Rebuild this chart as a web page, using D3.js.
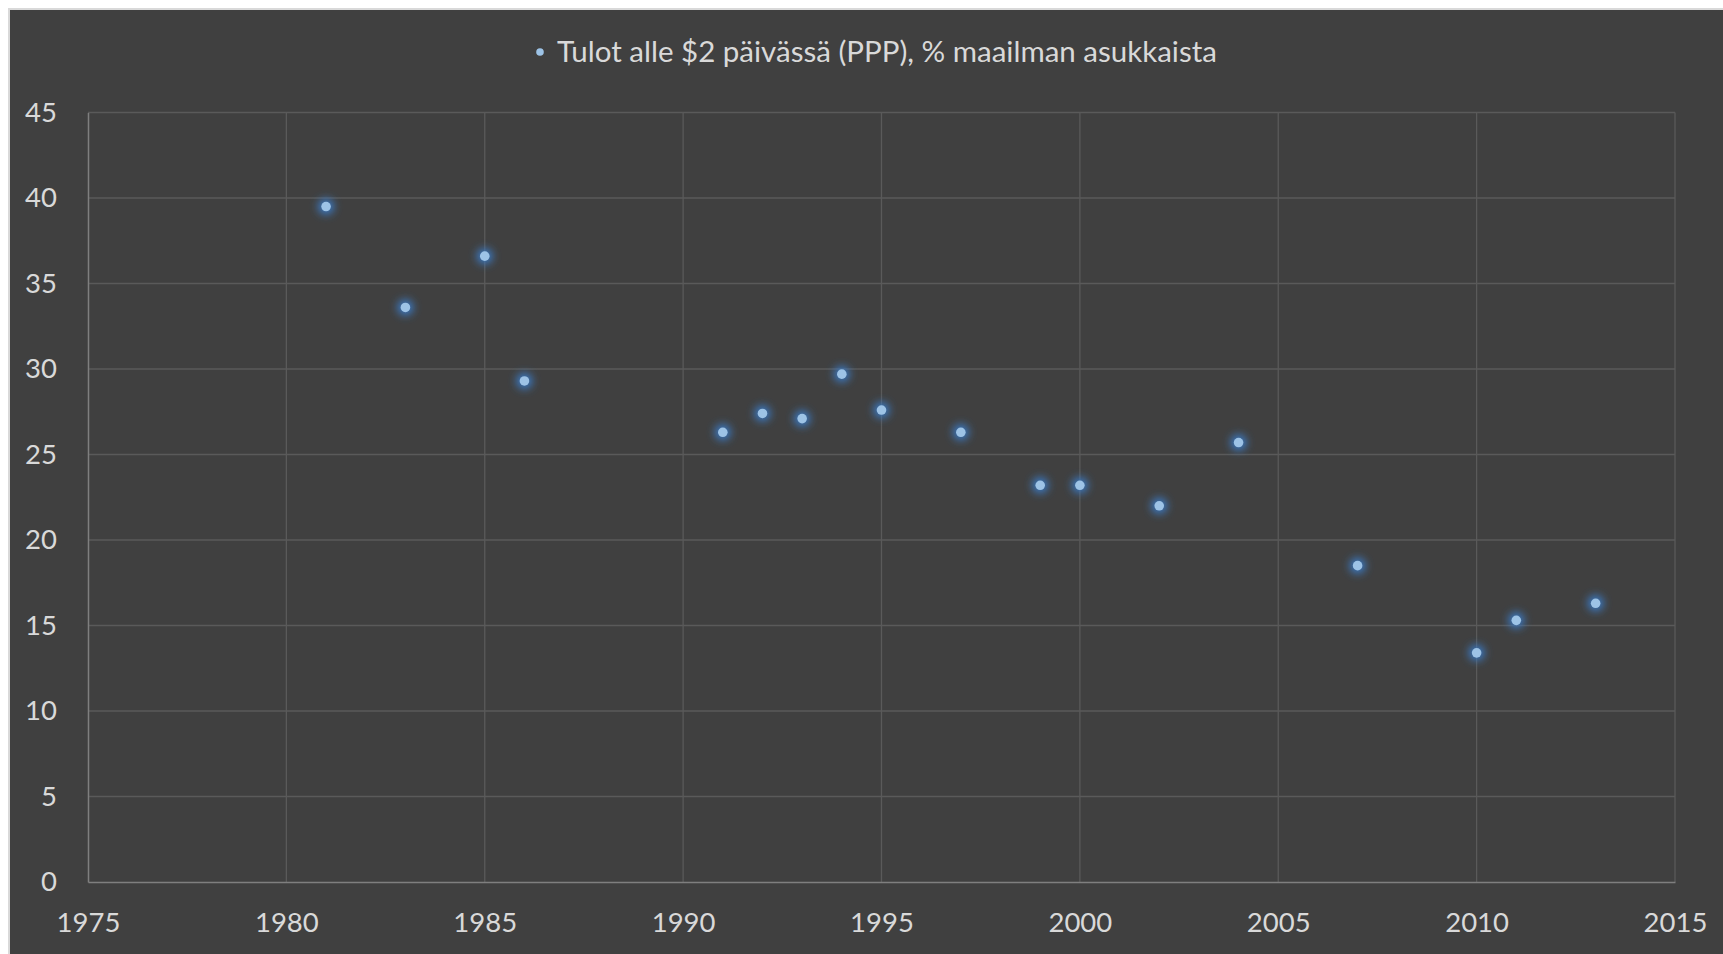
<!DOCTYPE html>
<html>
<head>
<meta charset="utf-8">
<script src="https://cdn.jsdelivr.net/npm/d3@7"></script>
<style>
  body { margin: 0; background: #ffffff; }
  text { font-family: Lato, "Open Sans", sans-serif; }
</style>
</head>
<body>
<div id="chart-container"></div>
<script>
// Data
const years = [1981, 1983, 1985, 1986, 1991, 1992, 1993, 1994, 1995, 1997, 1999, 2000, 2002, 2004, 2007, 2010, 2011, 2013];
const values = [39.5, 33.6, 36.6, 29.3, 26.3, 27.4, 27.1, 29.7, 27.6, 26.3, 23.2, 23.2, 22.0, 25.7, 18.5, 13.4, 15.3, 16.3];
const xTicks = [1975, 1980, 1985, 1990, 1995, 2000, 2005, 2010, 2015];
const yTicks = [0, 5, 10, 15, 20, 25, 30, 35, 40, 45];
const seriesName = 'Tulot alle $2 päivässä (PPP), % maailman asukkaista';

const W = 1723, H = 954;
const plot = { left: 88, right: 1675, top: 112.5, bottom: 882 };

const svg = d3.select('#chart-container')
    .append('svg')
    .attr('width', W)
    .attr('height', H);

// glow for the markers
const defs = svg.append('defs');
const glow = defs.append('filter')
    .attr('id', 'glow')
    .attr('x', '-200%').attr('y', '-200%')
    .attr('width', '500%').attr('height', '500%');
glow.append('feGaussianBlur').attr('stdDeviation', 4);

// chart background
svg.append('rect')
    .attr('x', 9).attr('y', 9)
    .attr('width', W).attr('height', H)
    .attr('fill', '#404040')
    .attr('stroke', '#d9d9d9')
    .attr('stroke-width', 2);

// scales
const xScale = d3.scaleLinear().domain([1975, 2015]).range([plot.left, plot.right]);
const yScale = d3.scaleLinear().domain([0, 45]).range([plot.bottom, plot.top]);

// gridlines
svg.append('g')
    .selectAll('line')
    .data(yTicks.filter(d => d > 0))
    .enter()
    .append('line')
    .attr('x1', plot.left).attr('x2', plot.right)
    .attr('y1', d => yScale(d)).attr('y2', d => yScale(d))
    .attr('stroke', '#5a5a5a')
    .attr('stroke-width', 1.3);

svg.append('g')
    .selectAll('line')
    .data(xTicks.filter(d => d > 1975))
    .enter()
    .append('line')
    .attr('x1', d => xScale(d)).attr('x2', d => xScale(d))
    .attr('y1', plot.top).attr('y2', plot.bottom)
    .attr('stroke', '#5a5a5a')
    .attr('stroke-width', 1.3);

// axes
const xAxis = svg.append('g')
    .attr('transform', `translate(0,${plot.bottom})`)
    .call(d3.axisBottom(xScale).tickValues(xTicks).tickFormat(d3.format('d')).tickSize(0).tickPadding(30));
xAxis.select('.domain').attr('stroke', '#7f7f7f').attr('stroke-width', 1.5);
xAxis.selectAll('text')
    .attr('fill', '#d9d9d9')
    .attr('font-size', '27.5px')
    .attr('font-family', 'Lato, "Open Sans", sans-serif');

const yAxis = svg.append('g')
    .attr('transform', `translate(${plot.left},0)`)
    .call(d3.axisLeft(yScale).tickValues(yTicks).tickSize(0).tickPadding(31));
yAxis.select('.domain').attr('stroke', '#7f7f7f').attr('stroke-width', 1.5);
yAxis.selectAll('text')
    .attr('fill', '#d9d9d9')
    .attr('font-size', '27.5px')
    .attr('font-family', 'Lato, "Open Sans", sans-serif');

// points: glow then core
const pts = svg.append('g');
pts.selectAll('.halo')
    .data(years)
    .enter()
    .append('circle')
    .attr('class', 'halo')
    .attr('cx', d => xScale(d))
    .attr('cy', (d, i) => yScale(values[i]))
    .attr('r', 8)
    .attr('fill', '#3a7cc8')
    .attr('filter', 'url(#glow)');
pts.selectAll('.dot')
    .data(years)
    .enter()
    .append('circle')
    .attr('class', 'dot')
    .attr('cx', d => xScale(d))
    .attr('cy', (d, i) => yScale(values[i]))
    .attr('r', 4.8)
    .attr('fill', '#9dc3e6');

// legend
const legend = svg.append('g');
legend.append('circle')
    .attr('cx', 540).attr('cy', 52)
    .attr('r', 3.8)
    .attr('fill', '#9dc3e6');
legend.append('text')
    .attr('x', 557).attr('y', 52)
    .attr('dy', '0.35em')
    .attr('font-size', '29.5px')
    .attr('fill', '#d9d9d9')
    .text(seriesName);
</script>
</body>
</html>
